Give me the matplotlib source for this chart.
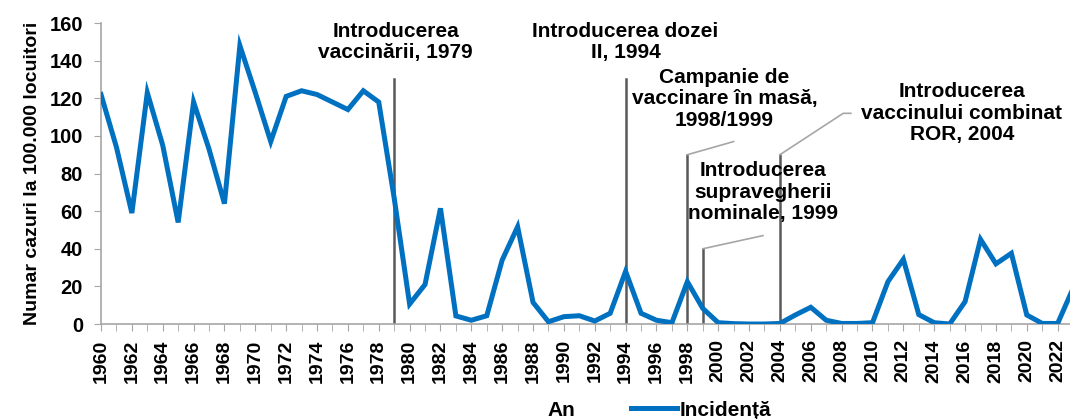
import numpy as np
import matplotlib.pyplot as plt
from matplotlib.lines import Line2D

plt.rcParams['font.family'] = ['Liberation Sans', 'DejaVu Sans']

years = list(range(1960, 2024))
incidence = [122, 94, 59, 123, 95, 54, 118, 93, 64, 148,
             123, 97, 121, 124, 122, 118, 114, 124, 118, 67,
             10.6, 21, 61.5, 4.3, 2, 4.4, 34, 51.7, 11.5, 1.2,
             3.9, 4.4, 1.6, 5.7, 28, 5.7, 2, 0.7, 22.5, 8.3,
             0.7, 0.2, 0, 0, 0.3, 4.8, 8.9, 2, 0.3, 0.3,
             0.7, 22.5, 34.4, 5, 0.7, 0, 11.9, 45, 32, 37.6,
             4.8, 0.3, 0.3, 19]

# events: year and height of the marker line
event_years = [1979, 1994, 1998, 1999, 2004]
event_heights = [130, 130, 90, 40, 90]
event_labels = ["Introducerea\nvaccinării, 1979",
                "Introducerea dozei\nII, 1994",
                "Campanie de\nvaccinare în masă,\n1998/1999",
                "Introducerea\nsupravegherii\nnominale, 1999",
                "Introducerea\nvaccinului combinat\nROR, 2004"]

fig = plt.figure(figsize=(10.7, 4.19), dpi=100)
ax = fig.add_axes([0.0944, 0.2267, 0.9056, 0.7183])

ax.plot(years, incidence, color='#0070C0', lw=3.6, solid_joinstyle='miter',
        label='Incidență', zorder=3)

ax.set_ylim(0, 160)
ax.set_xlim(1960, 2022.8)
ax.set_yticks(range(0, 161, 20))
ax.set_xticks(range(1960, 2023, 2))
ax.set_xticks(range(1960, 2023), minor=True)
ax.tick_params(axis='x', rotation=90, labelsize=14, length=5, pad=6,
               color='#a6a6a6')
ax.tick_params(axis='x', which='minor', length=5, color='#a6a6a6')
ax.tick_params(axis='y', labelsize=14.5, length=5, pad=8, color='#a6a6a6')
for lab in ax.get_xticklabels() + ax.get_yticklabels():
    lab.set_fontweight('bold')
for s in ['top', 'right']:
    ax.spines[s].set_visible(False)
for s in ['left', 'bottom']:
    ax.spines[s].set_color('#a6a6a6')
    ax.spines[s].set_linewidth(1.2)
ax.set_ylabel('Numar cazuri la 100.000 locuitori', fontsize=14,
              fontweight='bold', labelpad=6)

# marker lines
for yr, h in zip(event_years, event_heights):
    ax.plot([yr, yr], [0, h], color='#595959', lw=1.8, zorder=2)

# leader lines
ax.plot([1998, 2001], [90, 97], color='#a6a6a6', lw=1.2)
ax.plot([1999, 2002.9], [40, 47], color='#a6a6a6', lw=1.2)
ax.plot([2004, 2008.1, 2008.6], [90, 112, 112], color='#a6a6a6', lw=1.2)

lab_x = [1979.1, 1994.0, 2000.4, 2002.9, 2015.8]
lab_y = [160.5, 160.5, 136, 86.5, 128.5]
for x, y, t in zip(lab_x, lab_y, event_labels):
    ax.text(x, y, t, ha='center', va='top', fontsize=15, fontweight='bold',
            linespacing=1.15, clip_on=False, zorder=4)

fig.text(561 / 1070, 1 - 410 / 419, 'An', ha='center', va='center',
         fontsize=15, fontweight='bold')
leg = fig.legend(handles=[Line2D([], [], color='#0070C0', lw=3.6)],
                 labels=['Incidență'], loc='center left',
                 bbox_to_anchor=(612 / 1070, 1 - 410 / 419), frameon=False,
                 handlelength=2.2, handletextpad=0.15,
                 prop={'size': 15, 'weight': 'bold'})

fig.savefig('out.png', dpi=100)
